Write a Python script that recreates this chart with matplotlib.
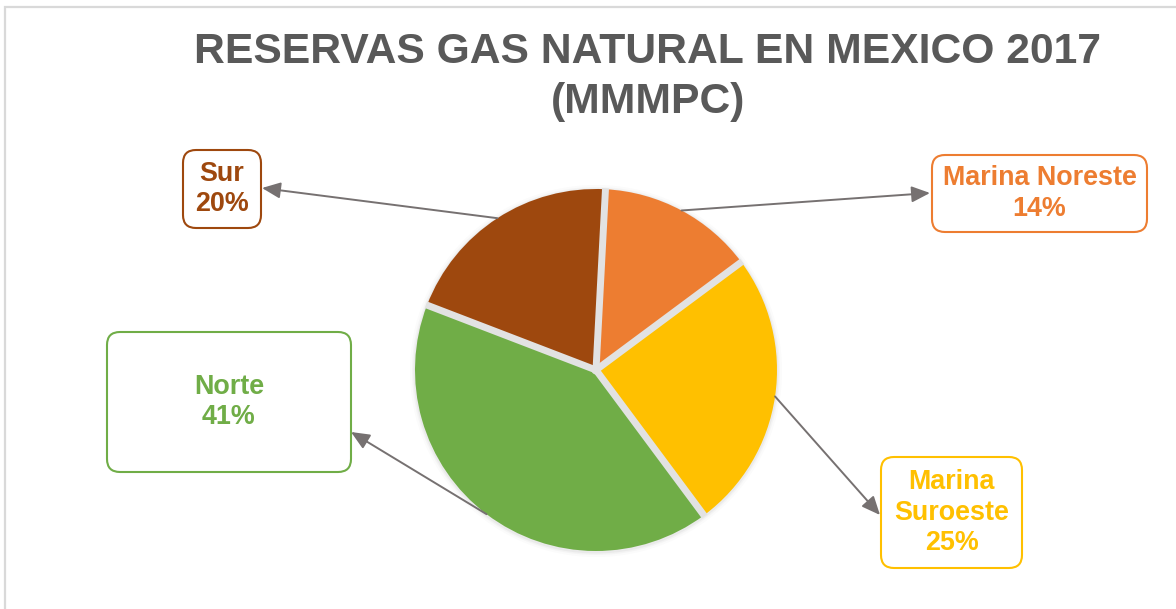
import matplotlib.pyplot as plt
from matplotlib.patches import FancyBboxPatch, Rectangle, Circle
import numpy as np

# Datos: reservas de gas natural 2017 (porcentaje)
regiones = ['Marina Noreste', 'Marina Suroeste', 'Norte', 'Sur']
etiquetas = ['Marina Noreste', 'Marina\nSuroeste', 'Norte', 'Sur']
porcentajes = [14, 25, 41, 20]
colores = ['#ED7D31', '#FFC000', '#70AD47', '#9E480E']

titulo = ['RESERVAS GAS NATURAL EN MEXICO 2017', '(MMMPC)']

W, H = 1176, 609
fig = plt.figure(figsize=(W / 100, H / 100), dpi=100)
ax = fig.add_axes([0, 0, 1, 1])

# coordenadas en pixeles (y hacia arriba)
cx, cy, r = 596, H - 370, 181

# sombra suave
for k, a in [(5, 0.06), (3, 0.10), (1.5, 0.18)]:
    ax.add_patch(Circle((cx, cy - 1), r + k, color='#BFBFBF', alpha=a, lw=0, zorder=0))

wedges, _ = ax.pie(porcentajes, colors=colores, startangle=87, counterclock=False,
                   center=(cx, cy), radius=r, wedgeprops=dict(linewidth=0))

# separaciones grises entre sectores
for w in wedges:
    a = np.deg2rad(w.theta1)
    ax.plot([cx, cx + (r + 1) * np.cos(a)], [cy, cy + (r + 1) * np.sin(a)],
            color='#E2E2E2', lw=5.0, solid_capstyle='butt', zorder=1.5)
ax.add_patch(Circle((cx, cy), 4.5, color='#E2E2E2', lw=0, zorder=1.6))

ax.set_xlim(0, W)
ax.set_ylim(0, H)
ax.set_aspect('auto')
ax.axis('off')

# marco gris
ax.add_patch(Rectangle((5, -40), W + 40, H - 7 + 40, fill=False, ec='#D9D9D9', lw=1.6))

# titulo
ax.text(648, H - 63, titulo[0], ha='center', va='baseline', fontsize=30.7,
        fontweight='bold', color='#595959', family='Liberation Sans')
ax.text(648, H - 113, titulo[1], ha='center', va='baseline', fontsize=30.7,
        fontweight='bold', color='#595959', family='Liberation Sans')

# cajas de etiquetas: (x0, y0_top, x1, y1_bottom) en pixeles
cajas = [(932, 155, 1147, 232), (881, 457, 1022, 568), (107, 332, 351, 472), (183, 150, 261, 228)]
puntas = [(930, 193), (880, 515), (351, 432), (262, 188)]

for w, lab, p, col, caja, tip in zip(wedges, etiquetas, porcentajes, colores, cajas, puntas):
    x0, y0, x1, y1 = caja
    ax.add_patch(FancyBboxPatch((x0, H - y1), x1 - x0, y1 - y0,
                                boxstyle='round,pad=0,rounding_size=13',
                                fc='white', ec=col, lw=1.5, zorder=3))
    ax.text((x0 + x1) / 2, H - (y0 + y1) / 2, f'{lab}\n{p}%', ha='center', va='center',
            fontsize=19.4, fontweight='bold', color=col, family='Liberation Sans',
            linespacing=1.22, zorder=4)
    ang = np.deg2rad((w.theta1 + w.theta2) / 2)
    start = (cx + r * np.cos(ang), cy + r * np.sin(ang))
    ax.annotate('', xy=(tip[0], H - tip[1]), xytext=start,
                arrowprops=dict(arrowstyle='-|>,head_length=0.8,head_width=0.35',
                                mutation_scale=14, color='#767171', lw=1.4,
                                shrinkA=0, shrinkB=0), zorder=2)

fig.savefig('out.png', dpi=100)
